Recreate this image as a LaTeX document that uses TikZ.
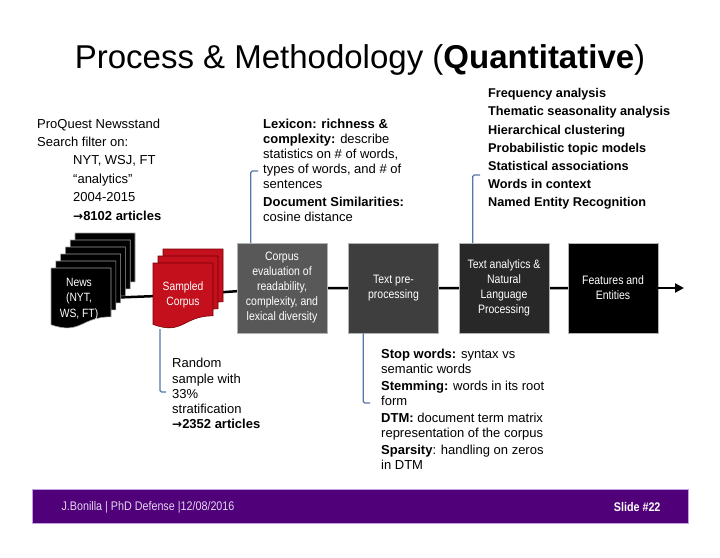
\documentclass[tikz,border=0pt]{standalone}
\usepackage{fontspec}
\setmainfont{Liberation Sans}
\newfontfamily\arrowfont{DejaVu Sans}
\newfontfamily\narrowfont{Liberation Sans}[FakeStretch=0.86]
\usetikzlibrary{arrows.meta,backgrounds}

\definecolor{docred}{RGB}{196,16,28}
\definecolor{brkblue}{RGB}{86,118,168}
\definecolor{footpurple}{RGB}{80,0,120}
\definecolor{footline}{RGB}{196,160,226}
\definecolor{foottext}{RGB}{226,214,240}

% bold arrow in front of an article count
\newcommand{\toarrow}{{\arrowfont\bfseries\fontsize{12}{10}\selectfont →}}

% one page of a stacked document, top left corner at (#1,#2), height #3
\newcommand{\pagedoc}[4]{%
   \filldraw[#4] ({#1},{#2}) -- ({#1+60},{#2}) -- ({#1+60},{#2+0.8*#3})
      .. controls ({#1+30},{#2+0.8*#3}) and ({#1+30},{#2+1.1*#3}) .. ({#1},{#2+0.93*#3}) -- cycle;}

\tikzset{
   stage/.style={minimum width=90pt, minimum height=90pt, inner sep=2pt, align=center,
      text=white, draw=gray!60, line width=0.5pt, font=\narrowfont\fontsize{12.2}{15}\selectfont},
   doctext/.style={text=white, align=center, font=\narrowfont\fontsize{12}{15.5}\selectfont},
   notes/.style={anchor=north west, inner sep=0pt, align=left},
   brk/.style={draw=brkblue, line width=1.4pt, rounded corners=1.5pt},
   newsdoc/.style={fill=black, draw=gray!75, line width=0.6pt},
   sampdoc/.style={fill=docred, draw=red!45!black, line width=0.6pt}
}

\begin{document}
\begin{tikzpicture}[x=1pt, y=-1pt]
   \useasboundingbox (0,0) rectangle (720,557);
   % Title
   \node [anchor=base] (title) at (360,68)
      {\fontsize{33}{40}\selectfont Process \& Methodology (\textbf{Quantitative})};
   % Text blocks
   \node [notes, font=\fontsize{13}{18.4}\selectfont] (source) at (37,118.5)
      {ProQuest Newsstand\\Search filter on:\\\hspace*{36pt}NYT,  WSJ,  FT\\
       \hspace*{36pt}“analytics”\\\hspace*{36pt}2004-2015\\\hspace*{36pt}\toarrow\textbf{8102 articles}};
   \node [notes, font=\fontsize{13}{15}\selectfont] (lexicon) at (263,118.5)
      {\textbf{Lexicon: richness \&}\\\textbf{complexity:} describe\\statistics on \# of words,\\
       types of words,  and \# of\\sentences\\[3pt]\textbf{Document Similarities:}\\cosine distance};
   \node [notes, font=\bfseries\fontsize{12.7}{18.2}\selectfont] (analyses) at (488,88.3)
      {Frequency analysis\\Thematic seasonality analysis\\Hierarchical clustering\\
       Probabilistic topic models\\Statistical associations\\Words in context\\Named Entity Recognition};
   \node [notes, font=\fontsize{13}{15.2}\selectfont] (sample) at (172,358.3)
      {Random\\sample with\\33\%\\stratification\\\toarrow\textbf{2352 articles}};
   \node [notes, font=\fontsize{13}{14.5}\selectfont] (prepnotes) at (381,349.3)
      {\textbf{Stop words:} syntax vs\\semantic words\\[3pt]\textbf{Stemming:} words in its root\\
       form\\[3pt]\textbf{DTM:} document term matrix\\representation of the corpus\\[3pt]
       \textbf{Sparsity}: handling on zeros\\in DTM};
   % Document stacks
   \foreach \i in {5,4,...,0}
      \pagedoc{51+4.8*\i}{268-7*\i}{61}{newsdoc};
   \foreach \i in {2,1,0}
      \pagedoc{153+5*\i}{263-7*\i}{66}{sampdoc};
   \node [doctext] (news) at (79,299) {News\\(NYT,\\WS,  FT)};
   \node [doctext] (sampled) at (183,295) {Sampled\\Corpus};
   % Stages
   \node [stage, fill={rgb,255:red,88;green,88;blue,88}] (corpus) at (282,288)
      {Corpus\\evaluation of\\readability,\\complexity,  and\\lexical diversity};
   \node [stage, fill={rgb,255:red,62;green,62;blue,62}] (prep) at (393.5,288) {Text pre-\\processing};
   \node [stage, fill={rgb,255:red,40;green,40;blue,40}] (nlp) at (504,288)
      {Text analytics \&\\Natural\\Language\\Processing};
   \node [stage, fill=black] (feat) at (613,288) {Features and\\Entities};
   \coordinate (tip) at (684,288);
   % Flow line
   \begin{pgfonlayer}{background}
      \draw [line width=2.5pt] (news.center) -- (sampled.center) -- (corpus.center)
         -- (prep.center) -- (nlp.center) -- (feat.center);
   \end{pgfonlayer}
   \draw [line width=2.5pt, -{Triangle[length=9pt, width=9pt]}] (feat.east) -- (tip);
   % Brackets
   \coordinate (lexcap) at (258,171);
   \coordinate (nlpcap) at (480,175);
   \coordinate (sampfoot) at (160,329);
   \coordinate (sampcap) at (166,392);
   \coordinate (prepcap) at (370,403);
   \draw [brk] ([xshift=14pt]corpus.north west) |- (lexcap);
   \draw [brk] ([xshift=14pt]nlp.north west) |- (nlpcap);
   \draw [brk] (sampfoot) |- (sampcap);
   \draw [brk] ([xshift=15pt]prep.south west) |- (prepcap);
   % Footer
   \filldraw [fill=footpurple, draw=footline, line width=0.8pt] (32,489) rectangle (688,523);
   \node [anchor=west, text=foottext, font=\narrowfont\fontsize{12.5}{13}\selectfont] (author) at (58,507)
      {J.Bonilla | PhD Defense |12/08/2016};
   \node [anchor=east, text=white, font=\narrowfont\bfseries\fontsize{12.5}{13}\selectfont] (slide) at (664,507) {Slide \#22};
\end{tikzpicture}
\end{document}
